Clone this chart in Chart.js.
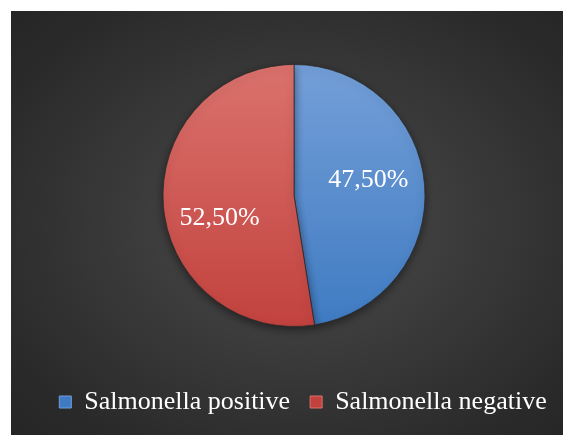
<!DOCTYPE html>
<html>
<head>
<meta charset="utf-8">
<script src="https://cdn.jsdelivr.net/npm/chart.js@4"></script>
<style>
  html, body { margin: 0; padding: 0; background: #fff; overflow: hidden; }
  .frame {
    position: absolute; left: 11px; top: 11px; width: 552px; height: 424px;
    background: radial-gradient(ellipse 70% 70% at 52% 50%, #4c4c4c 0%, #3a3a3a 45%, #2a2a2a 85%, #262626 100%);
  }
  canvas { display: block; }
</style>
</head>
<body>
<div class="frame"><canvas id="pie" width="552" height="424"></canvas></div>
<script>
const labels = ['Salmonella positive', 'Salmonella negative'];
const values = [47.5, 52.5];
const valueLabels = ['47,50%', '52,50%'];

const topColors = ['#749fd8', '#db726d'];
const bottomColors = ['#3f7bc2', '#c2423e'];

const fill = (ctx) => {
  const chart = ctx.chart;
  const area = chart.chartArea;
  if (!area) return topColors[ctx.dataIndex];
  const cy = (area.top + area.bottom) / 2;
  const g = chart.ctx.createLinearGradient(0, cy - 131, 0, cy + 131);
  g.addColorStop(0, topColors[ctx.dataIndex]);
  g.addColorStop(1, bottomColors[ctx.dataIndex]);
  return g;
};

// draws the percent labels inside the slices
const sliceText = {
  id: 'sliceText',
  afterDatasetsDraw(chart) {
    const c = chart.ctx;
    const meta = chart.getDatasetMeta(0);
    const nudge = [-9, 17];
    c.save();
    c.font = '26px "Liberation Serif", "Times New Roman", serif';
    c.fillStyle = '#ffffff';
    c.textAlign = 'center';
    c.textBaseline = 'middle';
    meta.data.forEach((arc, i) => {
      const mid = (arc.startAngle + arc.endAngle) / 2;
      const r = arc.outerRadius * 0.57;
      c.fillText(valueLabels[i], arc.x + Math.cos(mid) * r, arc.y + Math.sin(mid) * r + nudge[i]);
    });
    c.restore();
  }
};

const shadow = {
  id: 'shadow',
  beforeDatasetsDraw(chart) {
    chart.ctx.save();
    chart.ctx.shadowColor = 'rgba(0,0,0,0.45)';
    chart.ctx.shadowBlur = 8;
    chart.ctx.shadowOffsetY = 3;
  },
  afterDatasetsDraw(chart) {
    chart.ctx.restore();
  }
};

// legend sits a little right of the pie centre in the original
const legendShift = {
  id: 'legendShift',
  afterLayout(chart) {
    chart.legend.left += 9;
    chart.legend.right += 9;
  }
};

new Chart(document.getElementById('pie'), {
  type: 'pie',
  data: {
    labels: labels,
    datasets: [{
      data: values,
      backgroundColor: fill,
      borderColor: 'rgba(40,40,40,0.7)',
      borderWidth: 1,
      radius: 131
    }]
  },
  options: {
    responsive: false,
    animation: false,
    layout: { padding: { left: 14, right: 0, top: 11, bottom: 10 } },
    plugins: {
      tooltip: { enabled: false },
      legend: {
        position: 'bottom',
        labels: {
          color: '#ffffff',
          boxWidth: 12,
          boxHeight: 12,
          padding: 20,
          font: { family: '"Liberation Serif", "Times New Roman", serif', size: 26 },
          generateLabels(chart) {
            return labels.map((t, i) => ({
              text: t,
              fillStyle: bottomColors[i],
              strokeStyle: topColors[i],
              lineWidth: 1,
              fontColor: '#ffffff',
              index: i
            }));
          }
        }
      }
    }
  },
  plugins: [shadow, sliceText, legendShift]
});
</script>
</body>
</html>
